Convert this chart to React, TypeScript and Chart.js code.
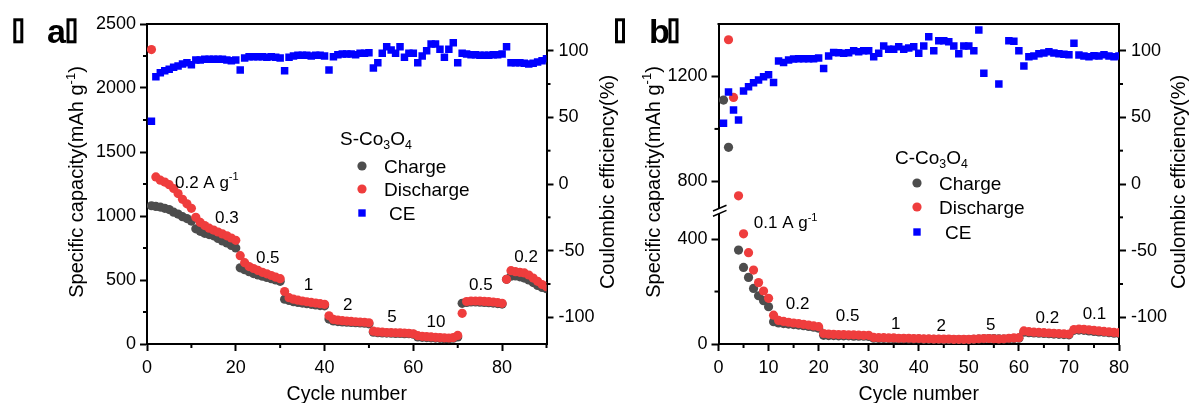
import React, { useEffect, useRef } from 'react';
import { Chart, registerables } from 'chart.js';

Chart.register(...registerables);

const FONT = '"Liberation Sans", Arial, Helvetica, sans-serif';
const W = 1192;
const H = 403;

const GRAY = '#4d4d4d';
const RED = '#ef3d3d';
const BLUE = '#0000ff';

// ---------------- Panel (a): S-Co3O4 (cycles 1..90) ----------------
const CHARGE_A = [
  1080, 1075, 1070, 1060, 1050, 1030, 1015, 995, 980, 960,
  900, 880, 865, 855, 845, 825, 805, 790, 770, 750,
  595, 580, 565, 550, 540, 530, 520, 510, 500, 490,
  350, 340, 330, 325, 320, 315, 310, 305, 300, 298,
  195, 180, 175, 172, 170, 168, 166, 165, 163, 158,
  92, 88, 86, 85, 84, 83, 82, 81, 80, 76,
  55, 52, 50, 48, 46, 44, 42, 42, 45, 55,
  318, 325, 328, 328, 327, 325, 323, 320, 316, 312,
  505, 530, 532, 525, 515, 500, 480, 458, 442, 432,
];
const DISCHARGE_A = [
  2300, 1305, 1280, 1265, 1245, 1215, 1175, 1130, 1095, 1060,
  990, 950, 925, 905, 890, 875, 860, 845, 828, 810,
  690, 635, 605, 590, 575, 560, 548, 535, 522, 510,
  410, 362, 350, 342, 336, 330, 325, 320, 315, 310,
  220, 192, 186, 182, 179, 176, 174, 172, 170, 166,
  100, 94, 92, 90, 89, 88, 87, 86, 84, 80,
  65, 60, 57, 55, 52, 50, 48, 47, 50, 67,
  240, 332, 336, 336, 335, 333, 331, 328, 324, 318,
  505, 573, 565, 560, 555, 539, 515, 490, 465, 448,
];
const CE_A = [
  47, 80.5, 83.5, 85, 86, 87.5, 88.5, 90, 91, 89.5,
  93, 93, 93.5, 93.5, 93.5, 93.5, 93.5, 93, 92.5, 93,
  85.5, 94.5, 95.5, 95.5, 95.5, 95.5, 95, 95.5, 95, 94.5,
  85, 95, 96, 96.5, 96.5, 96.5, 96, 96.5, 96.5, 96,
  85.5, 95.5, 97, 97.5, 97.5, 97.5, 97, 98, 98, 98.5,
  87, 91, 98, 103, 100.5, 98, 103, 95, 98, 98,
  91, 96, 100, 105, 105, 101, 95, 101, 106, 91,
  98, 97.5, 97, 97, 96.5, 96.5, 96.5, 97, 97, 97.5,
  103, 91, 91, 91, 90.5, 90, 90.5, 91.5, 92.5, 94,
];
const RATES_A = ['0.2', '0.3', '0.5', '1', '2', '5', '10', '0.5', '0.2'];
const TICKS_A_X = [0, 20, 40, 60, 80];
const TICKS_A_Y = [0, 500, 1000, 1500, 2000, 2500];

// ---------------- Panel (b): C-Co3O4 (cycles 1..80) ----------------
const CHARGE_B = [
  1110, 930, null, 358, 292, 254, 212, 184, 165, 142,
  85, 80, 78, 76, 74, 72, 70, 67, 64, 60,
  33, 32, 32, 31, 31, 31, 30, 30, 30, 29,
  22, 21, 21, 21, 20, 20, 20, 19, 19, 19,
  18, 18, 18, 18, 17, 17, 17, 17, 17, 17,
  18, 19, 20, 21, 21, 20, 19, 20, 21, 22,
  45, 43, 42, 41, 40, 39, 38, 37, 36, 35,
  52, 53, 52, 50, 48, 46, 45, 43, 41, 40,
];
const DISCHARGE_B = [
  null, 1340, 1120, 745, 420, 348, 282, 234, 202, 174,
  110, 90, 86, 83, 80, 78, 75, 72, 69, 66,
  40, 38, 37, 36, 36, 35, 35, 34, 33, 33,
  25, 24, 24, 23, 23, 22, 22, 22, 21, 21,
  20, 20, 19, 19, 19, 19, 18, 18, 18, 18,
  19, 20, 21, 21, 20, 19, 20, 22, 23, 24,
  50, 47, 45, 44, 43, 42, 41, 40, 39, 38,
  55, 57, 56, 54, 52, 50, 48, 46, 44, 43,
];
const CE_B = [
  45.5, 69, 55.5, 48, 69.7, 73, 76, 78, 80.5, 82,
  76.2, 92.2, 91.2, 93, 93.7, 94, 94, 94, 94, 94.5,
  86.7, 96, 98.7, 98.5, 98, 98.5, 100, 99.2, 100, 100,
  95.5, 98, 103.5, 101, 101, 103, 101, 102, 103, 98,
  103.5, 110.5, 100, 107.5, 107.5, 106.7, 103.5, 97.7, 103.5, 103.5,
  100, 115.5, 83, null, null, 75, null, 107.5, 107, 100,
  88.5, 95.5, 96, 97.7, 98.3, 99.2, 98.3, 97.7, 97.3, 97,
  105.5, 96.8, 96, 95.5, 96.2, 96, 97, 96, 95.5, 96,
];
const RATES_B = ['0.1', '0.2', '0.5', '1', '2', '5', '0.2', '0.1'];
const AXIS_BREAK_B = [510, 690];
const TICKS_B_X = [0, 10, 20, 30, 40, 50, 60, 70, 80];
const TICKS_B_LO = [0, 400];
const TICKS_B_HI = [800, 1200];
const TICKS_CE = [-100, -50, 0, 50, 100];

// ---------------- helpers ----------------
type Part = { t: string; k?: 'sup' | 'sub' };

function partFont(size: number, k?: string, weight = '') {
  const s = k ? size * 0.65 : size;
  return `${weight} ${s}px ${FONT}`;
}
function richWidth(ctx: CanvasRenderingContext2D, parts: Part[], size: number) {
  let w = 0;
  for (const p of parts) {
    ctx.font = partFont(size, p.k);
    w += ctx.measureText(p.t).width;
  }
  return w;
}
function drawRich(ctx: CanvasRenderingContext2D, parts: Part[], x: number, y: number, size: number, align: 'left' | 'center' = 'left') {
  const w = richWidth(ctx, parts, size);
  let cx = align === 'center' ? x - w / 2 : x;
  const base = y + size * 0.358;
  ctx.textAlign = 'left';
  ctx.textBaseline = 'alphabetic';
  for (const p of parts) {
    ctx.font = partFont(size, p.k);
    const dy = p.k === 'sup' ? -size * 0.42 : p.k === 'sub' ? size * 0.22 : 0;
    ctx.fillText(p.t, cx, base + dy);
    cx += ctx.measureText(p.t).width;
  }
}
function drawRotated(ctx: CanvasRenderingContext2D, parts: Part[], cx: number, cy: number, size: number) {
  ctx.save();
  ctx.translate(cx, cy);
  ctx.rotate(-Math.PI / 2);
  drawRich(ctx, parts, 0, 0, size, 'center');
  ctx.restore();
}

const CAP_TITLE: Part[] = [{ t: 'Specific capacity(mAh g' }, { t: '-1', k: 'sup' }, { t: ')' }];
const CE_TITLE: Part[] = [{ t: 'Coulombic efficiency(%)' }];
const X_TITLE: Part[] = [{ t: 'Cycle number' }];
const UNIT: Part[] = [{ t: ' A g' }, { t: '-1', k: 'sup' }];

interface Annot { x: number; y: number; left?: boolean }
interface Decor {
  label: string;
  labelX: number;
  boxes: number[];
  yTitleX: number;
  y2TitleX: number;
  legendTitle: Part[];
  legendTitleX: number;
  legendTitleY: number;
  legendMarkerX: number;
  legendTextX: number;
  legendCeTextX: number;
  legendRowsY: number[];
  rates: string[];
  annotPos: Annot[];
  annotScale: string;
  minor: Record<string, number[]>;
  breakAt?: boolean;
}

const MINOR_LEN = 4;

function decorPlugin(d: Decor) {
  return {
    id: 'decor',
    afterDraw(chart: any) {
      const ctx: CanvasRenderingContext2D = chart.ctx;
      const ca = chart.chartArea;
      ctx.save();
      ctx.fillStyle = '#000';
      ctx.strokeStyle = '#000';
      // top frame
      ctx.lineWidth = 2;
      ctx.beginPath();
      ctx.moveTo(ca.left - 1, ca.top);
      ctx.lineTo(ca.right + 1, ca.top);
      ctx.stroke();
      // minor ticks
      ctx.lineWidth = 2;
      for (const id of Object.keys(d.minor)) {
        const s = chart.scales[id];
        for (const v of d.minor[id]) {
          const p = s.getPixelForValue(v);
          ctx.beginPath();
          if (s.isHorizontal()) {
            ctx.moveTo(p, s.top);
            ctx.lineTo(p, s.top + MINOR_LEN);
          } else if (s.position === 'left') {
            ctx.moveTo(s.right, p);
            ctx.lineTo(s.right - MINOR_LEN, p);
          } else {
            ctx.moveTo(s.left, p);
            ctx.lineTo(s.left + MINOR_LEN, p);
          }
          ctx.stroke();
        }
      }
      // axis break marks
      if (d.breakAt) {
        const lo = chart.scales.yLo;
        const yj = lo.top;
        const ax = ca.left;
        const x0 = ax - 5.5, x1 = ax + 8;
        const u0 = yj + 0.8, u1 = yj - 5;
        const l0 = yj + 6, l1 = yj + 0.2;
        ctx.fillStyle = '#fff';
        ctx.beginPath();
        ctx.moveTo(x0, u0); ctx.lineTo(x1, u1); ctx.lineTo(x1, l1); ctx.lineTo(x0, l0); ctx.closePath();
        ctx.fill();
        ctx.fillStyle = '#000';
        ctx.lineWidth = 1.5;
        ctx.beginPath();
        ctx.moveTo(x0, u0); ctx.lineTo(x1, u1);
        ctx.moveTo(x0, l0); ctx.lineTo(x1, l1);
        ctx.stroke();
      }
      // axis titles
      const midY = (ca.top + ca.bottom) / 2 - 2;
      drawRotated(ctx, CAP_TITLE, d.yTitleX, midY, 20);
      drawRotated(ctx, CE_TITLE, d.y2TitleX, midY, 20);
      drawRich(ctx, X_TITLE, (ca.left + ca.right) / 2, 393, 19.5, 'center');
      // panel label
      ctx.font = `bold 34px ${FONT}`;
      ctx.textAlign = 'left';
      ctx.textBaseline = 'alphabetic';
      ctx.fillText(d.label, d.labelX, 43);
      ctx.lineWidth = 3;
      for (const bx of d.boxes) ctx.strokeRect(bx + 1.5, 19.8, 7, 22);
      // legend
      drawRich(ctx, d.legendTitle, d.legendTitleX, d.legendTitleY, 19);
      const rows = [
        { c: GRAY, t: 'Charge', sq: false },
        { c: RED, t: 'Discharge', sq: false },
        { c: BLUE, t: 'CE', sq: true },
      ];
      rows.forEach((r, i) => {
        const y = d.legendRowsY[i];
        ctx.fillStyle = r.c;
        ctx.beginPath();
        if (r.sq) ctx.rect(d.legendMarkerX - 3.7, y - 3.7, 7.4, 7.4);
        else ctx.arc(d.legendMarkerX, y, 4.6, 0, Math.PI * 2);
        ctx.fill();
        ctx.fillStyle = '#000';
        drawRich(ctx, [{ t: r.t }], r.sq ? d.legendCeTextX : d.legendTextX, y, 19);
      });
      // rate annotations
      const xs = chart.scales.x;
      const ys = chart.scales[d.annotScale];
      d.rates.forEach((txt, i) => {
        const pos = d.annotPos[i];
        const px = xs.getPixelForValue(pos.x);
        const py = ys.getPixelForValue(pos.y);
        if (pos.left) drawRich(ctx, [{ t: txt }, ...UNIT], px, py, 17, 'left');
        else drawRich(ctx, [{ t: txt }], px, py, 17, 'center');
      });
      ctx.restore();
    },
  };
}

function pts(arr: (number | null)[], keep?: (v: number) => boolean) {
  const out: { x: number; y: number }[] = [];
  arr.forEach((v, i) => {
    if (v === null || v === undefined) return;
    if (keep && !keep(v)) return;
    out.push({ x: i + 1, y: v });
  });
  return out;
}

const tickFont = { family: FONT, size: 18 };
function axisBase(tickValues: number[], extra: any) {
  return {
    type: 'linear',
    border: { display: true, color: '#000', width: 2 },
    grid: { display: true, drawOnChartArea: false, drawTicks: true, tickLength: 7, tickColor: '#000', tickWidth: 2, color: '#000' },
    afterBuildTicks: (s: any) => {
      s.ticks = tickValues.map((v) => ({ value: v }));
    },
    ...extra,
    ticks: {
      color: '#000',
      font: tickFont,
      maxRotation: 0,
      autoSkip: false,
      callback: (v: any) => String(v),
      ...(extra.ticks || {}),
    },
  };
}

const circle = (color: string) => ({ pointStyle: 'circle', pointRadius: 4.6, backgroundColor: color, borderWidth: 0, pointHoverRadius: 4.6 });
const square = { pointStyle: 'rect', pointRadius: 5.3, backgroundColor: BLUE, borderWidth: 0, pointHoverRadius: 5.3 };

function configA(): any {
  const decor: Decor = {
    label: 'a',
    labelX: 47,
    boxes: [13.3, 66.5],
    yTitleX: 76,
    y2TitleX: 607,
    legendTitle: [{ t: 'S-Co' }, { t: '3', k: 'sub' }, { t: 'O' }, { t: '4', k: 'sub' }],
    legendTitleX: 340,
    legendTitleY: 138,
    legendMarkerX: 362,
    legendTextX: 384,
    legendCeTextX: 389,
    legendRowsY: [166, 189, 213],
    rates: RATES_A,
    annotPos: [
      { x: 6.3, y: 1270, left: true }, { x: 18, y: 992 }, { x: 27.2, y: 680 }, { x: 36.4, y: 469 },
      { x: 45.2, y: 312 }, { x: 55.2, y: 219 }, { x: 65.1, y: 180 }, { x: 75.2, y: 469 }, { x: 85.4, y: 688 },
    ],
    annotScale: 'y',
    minor: { x: [10, 30, 50, 70, 90], y: [250, 750, 1250, 1750, 2250], y2: [-75, -25, 25, 75] },
  };
  return {
    type: 'scatter',
    data: {
      datasets: [
        { label: 'CE', data: pts(CE_A), yAxisID: 'y2', ...square },
        { label: 'Discharge', data: pts(DISCHARGE_A), yAxisID: 'y', ...circle(RED) },
        { label: 'Charge', data: pts(CHARGE_A), yAxisID: 'y', ...circle(GRAY) },
      ],
    },
    options: {
      responsive: false,
      animation: false,
      events: [],
      layout: { padding: { top: 24, left: 0, right: 0, bottom: 0 } },
      plugins: { legend: { display: false }, tooltip: { enabled: false } },
      scales: {
        x: axisBase(TICKS_A_X, { position: 'bottom', min: 0, max: 90, afterFit: (s: any) => { s.height = 59; }, ticks: { padding: 6 } }),
        y: axisBase(TICKS_A_Y, { position: 'left', min: 0, max: 2500, afterFit: (s: any) => { s.width = 147; }, ticks: { padding: 4 } }),
        y2: axisBase(TICKS_CE, { position: 'right', min: -120, max: 120, afterFit: (s: any) => { s.width = W - 546.5; }, ticks: { padding: 5 } }),
      },
    },
    plugins: [decorPlugin(decor)],
  };
}

function configB(): any {
  const decor: Decor = {
    label: 'b',
    labelX: 649,
    boxes: [615, 668.5],
    yTitleX: 652.5,
    y2TitleX: 1178,
    legendTitle: [{ t: 'C-Co' }, { t: '3', k: 'sub' }, { t: 'O' }, { t: '4', k: 'sub' }],
    legendTitleX: 895,
    legendTitleY: 157,
    legendMarkerX: 917,
    legendTextX: 939,
    legendCeTextX: 945,
    legendRowsY: [183, 207, 232],
    rates: RATES_B,
    annotPos: [
      { x: 7.05, y: 465, left: true }, { x: 15.8, y: 156 }, { x: 25.8, y: 110 }, { x: 35.4, y: 80 },
      { x: 44.5, y: 72 }, { x: 54.4, y: 76 }, { x: 65.7, y: 103 }, { x: 75.1, y: 118 },
    ],
    annotScale: 'yLo',
    minor: {
      x: [5, 15, 25, 35, 45, 55, 65, 75],
      yLo: [200],
      yHi: [1000],
      y2: [-75, -25, 25, 75],
    },
    breakAt: true,
  };
  const [brLo, brHi] = AXIS_BREAK_B;
  const hi = (v: number) => v > (brLo + brHi) / 2;
  const lo = (v: number) => v <= (brLo + brHi) / 2;
  return {
    type: 'scatter',
    data: {
      datasets: [
        { label: 'CE', data: pts(CE_B), yAxisID: 'y2', ...square },
        { label: 'Discharge', data: pts(DISCHARGE_B, hi), yAxisID: 'yHi', ...circle(RED) },
        { label: 'Discharge', data: pts(DISCHARGE_B, lo), yAxisID: 'yLo', ...circle(RED) },
        { label: 'Charge', data: pts(CHARGE_B, hi), yAxisID: 'yHi', ...circle(GRAY) },
        { label: 'Charge', data: pts(CHARGE_B, lo), yAxisID: 'yLo', ...circle(GRAY) },
      ],
    },
    options: {
      responsive: false,
      animation: false,
      events: [],
      layout: { padding: { top: 24, left: 0, right: 0, bottom: 0 } },
      plugins: { legend: { display: false }, tooltip: { enabled: false } },
      scales: {
        x: axisBase(TICKS_B_X, { position: 'bottom', min: 0, max: 80, afterFit: (s: any) => { s.height = 59; }, ticks: { padding: 6 } }),
        yLo: axisBase(TICKS_B_LO, { position: 'left', stack: 'cap', stackWeight: brLo, weight: 0, min: 0, max: brLo, afterFit: (s: any) => { s.width = 718.5; }, ticks: { padding: 4 } }),
        yHi: axisBase(TICKS_B_HI, { position: 'left', stack: 'cap', stackWeight: 1400 - brHi, weight: 1, min: brHi, max: 1400, afterFit: (s: any) => { s.width = 718.5; }, ticks: { padding: 4 } }),
        y2: axisBase(TICKS_CE, { position: 'right', min: -120, max: 120, afterFit: (s: any) => { s.width = W - 1119; }, ticks: { padding: 5 } }),
      },
    },
    plugins: [decorPlugin(decor)],
  };
}

export default function App() {
  const refA = useRef<HTMLCanvasElement>(null);
  const refB = useRef<HTMLCanvasElement>(null);
  useEffect(() => {
    Chart.defaults.font.family = FONT;
    Chart.defaults.color = '#000';
    const a = new Chart(refA.current as HTMLCanvasElement, configA());
    const b = new Chart(refB.current as HTMLCanvasElement, configB());
    return () => {
      a.destroy();
      b.destroy();
    };
  }, []);
  return (
    <div style={{ position: 'absolute', left: 0, top: 0, width: W, height: H, background: '#fff' }}>
      <canvas ref={refA} width={W} height={H} style={{ position: 'absolute', left: 0, top: 0 }} />
      <canvas ref={refB} width={W} height={H} style={{ position: 'absolute', left: 0, top: 0 }} />
    </div>
  );
}
